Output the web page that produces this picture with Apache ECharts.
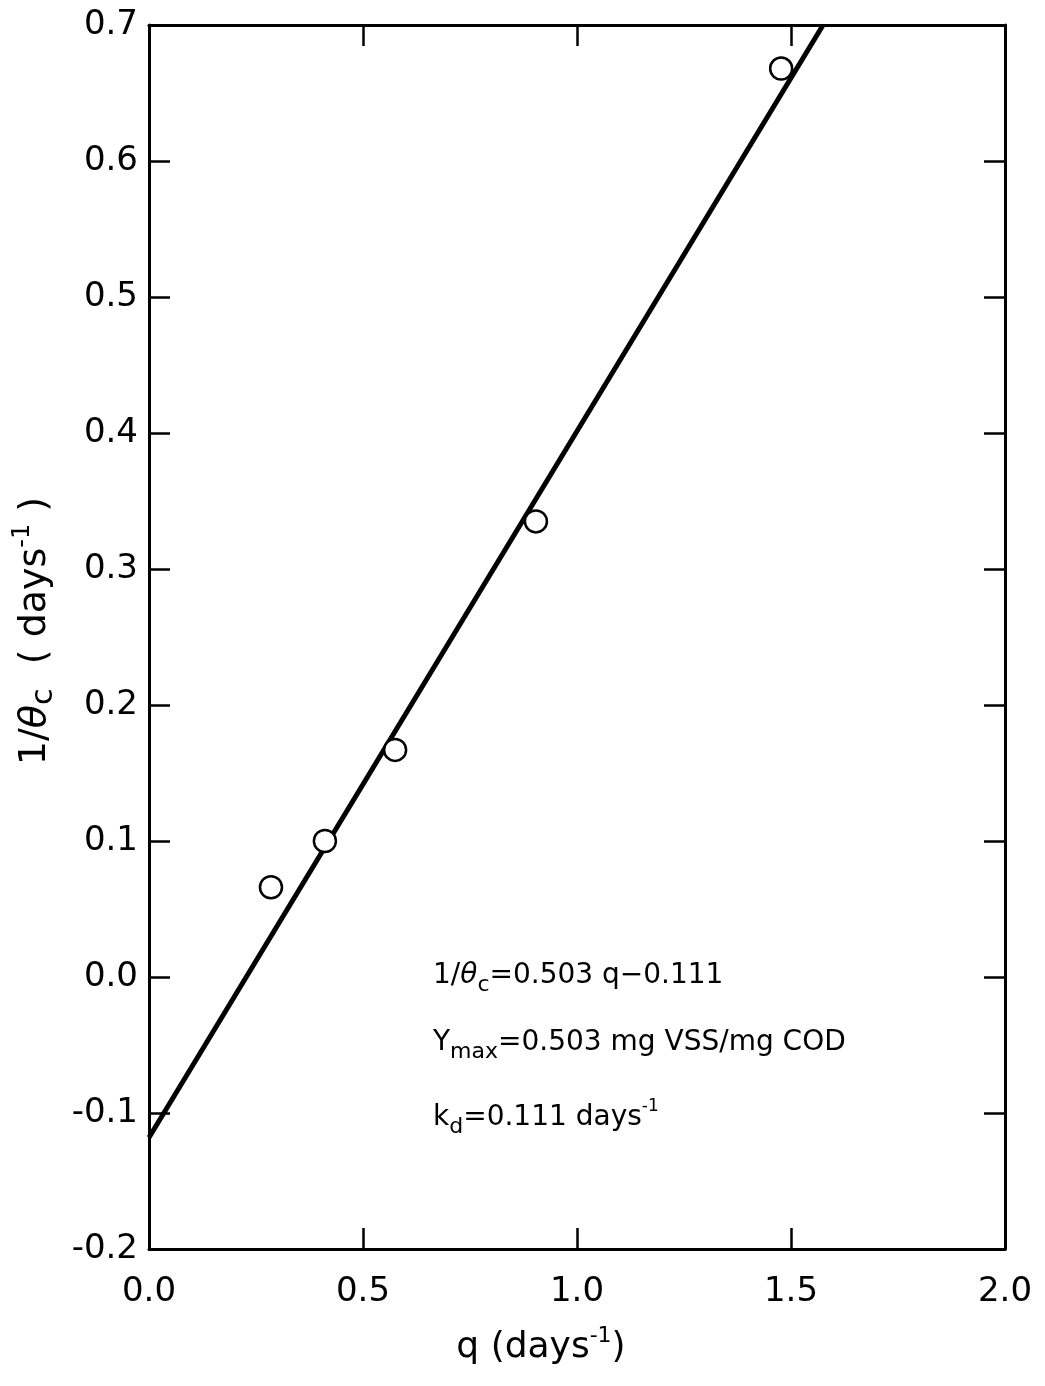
<!DOCTYPE html>
<html>
<head>
<meta charset="utf-8">
<title>1/θc vs q</title>
<script src="https://cdn.jsdelivr.net/npm/echarts@6/dist/echarts.min.js"></script>
<style>
  html, body { margin: 0; padding: 0; background: #fff; }
  #chart { width: 1045px; height: 1386px; }
</style>
</head>
<body>
<div id="chart"></div>
<script>
// measured points: q (days^-1) and 1/theta_c (days^-1)
var qValues = [0.285, 0.411, 0.575, 0.904, 1.477];
var invTheta = [0.066, 0.100, 0.167, 0.335, 0.668];

// fitted line as drawn, its two ends
var lineQ = [0, 1.575];
var lineY = [-0.118, 0.7];

// axis ranges
var xTicks = [0, 0.5, 1.0, 1.5, 2.0];
var yTicks = [-0.2, -0.1, 0, 0.1, 0.2, 0.3, 0.4, 0.5, 0.6, 0.7];

var FONT = 'DejaVu Sans';
var chart = echarts.init(document.getElementById('chart'));

// rich styles shared by titles and notes
function richSet(size, lh) {
  return {
    n: { fontSize: size, lineHeight: lh, fontFamily: FONT, color: '#000' },
    th: { fontSize: size, lineHeight: lh, fontFamily: FONT, fontStyle: 'italic', color: '#000' },
    sub: { fontSize: Math.round(size * 0.78), lineHeight: Math.round(lh * 0.5), verticalAlign: 'bottom', fontFamily: FONT, color: '#000' },
    sup: { fontSize: Math.round(size * 0.62), lineHeight: Math.round(lh * 0.45), verticalAlign: 'top', fontFamily: FONT, color: '#000' }
  };
}

function sideAxis(pos, isX) {
  return {
    type: 'value',
    position: pos,
    min: isX ? xTicks[0] : yTicks[0],
    max: isX ? xTicks[xTicks.length - 1] : yTicks[yTicks.length - 1],
    interval: isX ? 0.5 : 0.1,
    axisLine: { show: true, onZero: false, lineStyle: { color: '#000', width: 3 } },
    axisTick: { show: true, inside: true, length: 21, lineStyle: { color: '#000', width: 2.5 } },
    axisLabel: { show: false },
    splitLine: { show: false }
  };
}

var bottomX = sideAxis('bottom', true);
bottomX.axisLabel = {
  show: true, fontSize: 34, fontFamily: FONT, color: '#000', margin: 26,
  formatter: function (v) { return v.toFixed(1); }
};
bottomX.name = '{n|q (days}{sup|-1}{n|)}';
bottomX.nameLocation = 'middle';
bottomX.nameGap = 76;
bottomX.nameTextStyle = { rich: richSet(36, 46), padding: [0, 72, 0, 0] };

var leftY = sideAxis('left', false);
leftY.axisLabel = {
  show: true, fontSize: 34, fontFamily: FONT, color: '#000', margin: 11,
  formatter: function (v) { return v.toFixed(1); }
};
leftY.name = '{n|1/}{th|θ}{sub|c}{n|  ( days}{sup|-1}{n| )}';
leftY.nameLocation = 'middle';
leftY.nameRotate = 90;
leftY.nameGap = 90;
leftY.nameTextStyle = { rich: richSet(38, 48), padding: [0, 0, 0, 12] };

var noteRich = richSet(28, 40);

var option = {
  animation: false,
  backgroundColor: '#fff',
  grid: { left: 149, top: 25, right: 40, bottom: 137 },
  xAxis: [bottomX, sideAxis('top', true)],
  yAxis: [leftY, sideAxis('right', false)],
  graphic: [
    {
      type: 'text', left: 433, top: 962,
      style: { text: '{n|1/}{th|θ}{sub|c}{n|=0.503 q−0.111}', rich: noteRich }
    },
    {
      type: 'text', left: 433, top: 1029,
      style: { text: '{n|Y}{sub|max}{n|=0.503 mg VSS/mg COD}', rich: noteRich }
    },
    {
      type: 'text', left: 433, top: 1098,
      style: { text: '{n|k}{sub|d}{n|=0.111 days}{sup|-1}', rich: noteRich }
    }
  ],
  series: [
    {
      type: 'line',
      xAxisIndex: 0, yAxisIndex: 0,
      showSymbol: false,
      lineStyle: { color: '#000', width: 5 },
      data: lineQ.map(function (q, i) { return [q, lineY[i]]; }),
      z: 2
    },
    {
      type: 'scatter',
      xAxisIndex: 0, yAxisIndex: 0,
      symbol: 'circle',
      symbolSize: 22,
      itemStyle: { color: '#fff', borderColor: '#000', borderWidth: 2.5, opacity: 1 },
      data: qValues.map(function (q, i) { return [q, invTheta[i]]; }),
      z: 3
    }
  ]
};

chart.setOption(option);
</script>
</body>
</html>
